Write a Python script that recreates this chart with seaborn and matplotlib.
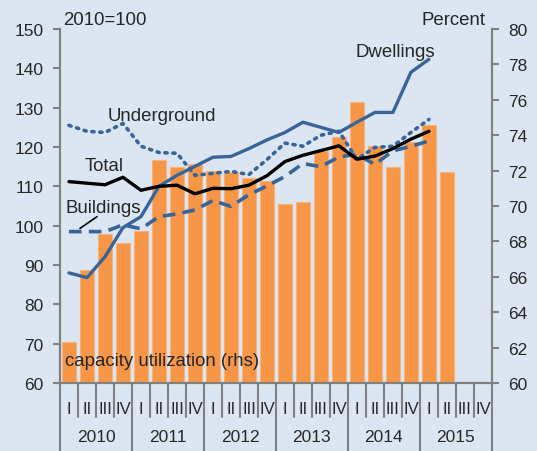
import numpy as np
import pandas as pd
import matplotlib
matplotlib.use("Agg")
import matplotlib.pyplot as plt
import matplotlib.transforms as mtransforms
import seaborn as sns

# quarters 2010Q1 .. 2015Q4
years = ['2010', '2011', '2012', '2013', '2014', '2015']
quarters = ['I', 'II', 'III', 'IV']

# capacity utilization (rhs, percent), 2010Q1 .. 2015Q2
capacity = [62.3, 66.4, 68.4, 67.9, 68.6, 72.6, 72.2, 72.4, 72.0, 71.9, 71.6,
            71.4, 70.1, 70.2, 73.1, 73.9, 75.9, 73.4, 72.2, 73.6, 74.6, 71.9]

# production indices (2010=100), 2010Q1 .. 2015Q1
dwellings = [88.0, 86.8, 92.1, 99.5, 102.3, 110.0, 112.8, 115.1, 117.4, 117.6, 119.6,
             121.8, 123.7, 126.3, 125.0, 123.7, 126.3, 128.8, 128.8, 139.0, 142.3]
underground = [125.5, 124.0, 123.7, 126.0, 120.2, 118.6, 118.4, 112.8, 113.3, 113.8, 113.0,
               116.8, 121.0, 120.2, 123.0, 124.0, 116.9, 119.9, 120.2, 123.7, 127.0]
total = [111.2, 110.8, 110.4, 112.3, 109.0, 110.0, 110.3, 108.1, 109.5, 109.4, 110.3,
         112.7, 116.3, 117.9, 119.1, 120.3, 116.9, 117.7, 119.6, 122.0, 124.0]
buildings = [98.5, 98.5, 98.5, 100.2, 99.2, 102.3, 103.0, 104.0, 106.4, 104.9, 107.9,
             110.1, 112.5, 115.8, 115.0, 117.5, 118.1, 115.6, 119.0, 120.2, 121.5]

bg = '#dce6f2'
orange = '#f79646'
blue = '#376499'
grey = '#808080'

sns.set_style("white")
plt.rcParams['font.family'] = ['Liberation Sans', 'DejaVu Sans']
plt.rcParams['font.size'] = 12

fig = plt.figure(figsize=(5.37, 4.52), dpi=100, facecolor=bg)
ax = fig.add_axes([0.1117, 0.1504, 0.8043, 0.7832])
axr = ax.twinx()
ax.set_zorder(axr.get_zorder() + 1)
ax.patch.set_visible(False)
axr.set_facecolor(bg)

n_q = len(years) * len(quarters)

# bars on right axis
bars = pd.DataFrame({'q': np.arange(len(capacity)), 'cap': capacity})
sns.barplot(data=bars, x='q', y='cap', ax=axr, color=orange, saturation=1,
            width=0.78, edgecolor='#f8b27c', linewidth=0.8, native_scale=True)
axr.set_ylim(60, 80)
axr.set_yticks(np.arange(60, 81, 2))

# lines on left axis
idx = np.arange(len(dwellings))
lines = pd.DataFrame({'q': idx, 'Dwellings': dwellings, 'Underground': underground,
                      'Total': total, 'Buildings': buildings})
sns.lineplot(data=lines, x='q', y='Dwellings', ax=ax, color=blue, lw=2.4)
sns.lineplot(data=lines, x='q', y='Underground', ax=ax, color=blue, lw=2.6,
             linestyle=(0, (0.6, 1.6)), dash_capstyle='round')
sns.lineplot(data=lines, x='q', y='Buildings', ax=ax, color=blue, lw=2.6,
             linestyle=(0, (3.5, 2)))
sns.lineplot(data=lines, x='q', y='Total', ax=ax, color='black', lw=2.4)
ax.set_ylim(60, 150)
ax.set_yticks(np.arange(60, 151, 10))
ax.set_xlim(-0.5, n_q - 0.5)

# spines and ticks
for a in (ax, axr):
    for s in a.spines.values():
        s.set_color(grey)
        s.set_linewidth(1.5)
    a.spines['top'].set_visible(False)
    a.set_xlabel('')
    a.set_ylabel('')
ax.tick_params(axis='y', length=5, width=1.5, color=grey, pad=7, labelsize=12.5)
axr.tick_params(axis='y', length=5, width=1.5, color=grey, pad=7, labelsize=12.5)

ax.set_xticks(np.arange(n_q))
ax.set_xticklabels(quarters * len(years))
ax.tick_params(axis='x', length=0, pad=13, labelsize=12)
axr.tick_params(axis='x', length=0, labelbottom=False)

# quarter and year separators below the axis
trans = mtransforms.blended_transform_factory(ax.transData, ax.transAxes)
for k in range(n_q + 1):
    x = k - 0.5
    if k % 4 == 0:
        ax.plot([x, x], [0, -0.25], transform=trans, color=grey, lw=1.5, clip_on=False)
    else:
        ax.plot([x, x], [0, -0.096], transform=trans, color=grey, lw=1.5, clip_on=False)
for i, y in enumerate(years):
    ax.text(4 * i + 1.5, -0.152, y, transform=trans, ha='center', va='center', fontsize=12.5)

# annotations
fs = 13.4
ax.text(0.008, 1.028, '2010=100', transform=ax.transAxes, ha='left', va='center', fontsize=fs)
ax.text(0.985, 1.028, 'Percent', transform=ax.transAxes, ha='right', va='center', fontsize=fs)
ax.text(2.17, 128.1, 'Underground', ha='left', va='center', fontsize=fs)
ax.text(15.94, 144.4, 'Dwellings', ha='left', va='center', fontsize=fs)
ax.text(0.89, 115.3, 'Total', ha='left', va='center', fontsize=fs)
ax.text(-0.22, 104.6, 'Buildings', ha='left', va='center', fontsize=fs)
ax.plot([0.61, 1.56], [99.3, 102.3], color='black', lw=1.2)
ax.text(-0.22, 65.6, 'capacity utilization (rhs)', ha='left', va='center', fontsize=fs)

fig.savefig('out.png', dpi=100, facecolor=bg)
